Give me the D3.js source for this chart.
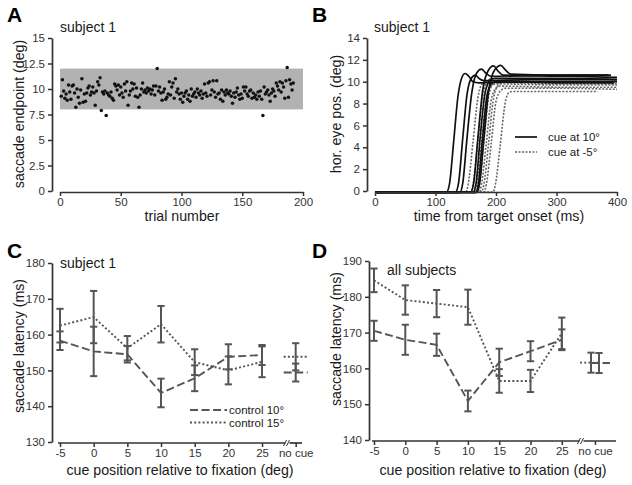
<!DOCTYPE html>
<html><head><meta charset="utf-8">
<script src="https://cdn.jsdelivr.net/npm/d3@7"></script>
<style>
body{margin:0;background:#fff;}
svg{display:block;font-family:"Liberation Sans",Arial,sans-serif;}
</style></head><body>
<svg id="chart" width="632" height="485"></svg>
<script>
// ---------- Panel A data ----------
const endpoints = [
9.3,10.9,9.8,9.1,9.5,8.9,10.4,9.7,9.0,10.3,
10.4,9.6,8.2,10.0,9.2,8.6,9.9,11.0,8.7,9.5,
8.8,9.6,10.1,10.3,9.4,9.7,10.2,9.6,8.4,9.8,
10.7,10.4,11.1,7.9,9.7,9.5,9.8,7.4,9.6,9.4,
9.3,9.7,9.1,8.9,10.5,10.3,9.9,10.4,9.4,10.2,
9.6,9.2,10.5,9.8,10.7,8.4,9.4,9.8,10.6,10.0,
10.5,9.3,10.1,9.2,8.2,9.4,10.0,10.6,9.7,9.9,
9.6,10.1,9.8,10.0,9.5,9.9,10.3,9.4,10.3,12.0,
9.8,10.2,9.6,8.9,9.7,10.0,9.0,9.2,9.5,10.7,
9.4,10.2,10.6,9.1,11.0,9.7,10.0,9.5,9.0,9.6,
8.7,9.3,9.6,9.8,9.0,9.4,8.8,10.0,9.3,9.5,
9.7,9.2,10.0,9.6,9.4,9.8,9.1,9.5,10.5,9.6,
9.3,10.6,10.7,9.4,9.9,10.8,9.7,9.2,10.8,9.5,
9.6,9.0,9.9,8.8,9.7,9.4,9.9,9.6,9.5,9.8,
9.3,8.6,9.6,9.2,9.7,10.1,9.4,9.0,9.5,9.1,
10.2,9.8,10.2,9.5,9.3,9.8,9.9,9.1,9.6,9.2,
9.4,9.0,9.7,9.3,9.8,9.0,7.4,10.2,9.5,9.7,
9.9,9.4,8.8,9.6,10.0,9.8,9.3,10.6,10.3,9.9,
10.7,9.7,10.6,10.2,9.1,10.8,12.1,9.2,10.9,10.5,
9.9,10.6];
const bandLimits = [8, 12];
const aYTicks = [0, 2.5, 5, 7.5, 10, 12.5, 15];
const aXTicks = [0, 50, 100, 150, 200];

// ---------- Panel B data: [time ms, position deg] ----------
const tracesCue10 = [
 [[0,-0.12],[118,-0.12],[123,0.6],[130,4.5],[137,8.6],[143,10.3],[149,10.75],[155,10.5],[162,10.0],[172,9.9],[250,10.0],[400,10.0]],
 [[0,-0.1],[133,-0.1],[138,0.7],[145,4.8],[152,8.8],[159,10.3],[166,10.6],[172,10.3],[180,10.1],[260,10.2],[400,10.2]],
 [[0,-0.15],[140,-0.15],[145,0.7],[152,4.8],[160,9.0],[168,10.8],[176,11.15],[183,10.8],[192,10.5],[300,10.6],[390,10.6]],
 [[0,-0.1],[158,-0.1],[163,0.7],[170,4.8],[178,9.2],[187,11.0],[196,11.45],[203,11.0],[212,10.6],[300,10.5],[400,10.4]],
 [[0,-0.12],[168,-0.12],[173,0.7],[180,4.8],[188,9.2],[198,11.1],[208,11.5],[215,11.1],[224,10.7],[300,10.6],[385,10.6]],
 [[0,-0.1],[162,-0.1],[167,0.7],[174,5.0],[182,9.0],[190,10.1],[198,10.3],[300,10.3],[400,10.2]],
 [[0,-0.15],[166,-0.15],[171,0.7],[178,5.0],[186,9.0],[194,9.9],[202,10.0],[300,9.9],[395,9.9]]
];
const tracesCueM5 = [
 [[0,-0.1],[150,-0.1],[154,0.6],[162,4.5],[170,8.5],[177,9.8],[184,10.0],[300,10.0],[400,10.0]],
 [[0,-0.1],[158,-0.1],[162,0.6],[170,4.6],[178,8.7],[186,10.1],[194,10.3],[300,10.2],[400,10.2]],
 [[0,-0.12],[164,-0.12],[168,0.6],[176,4.4],[184,8.4],[192,9.6],[199,9.8],[300,9.7],[400,9.7]],
 [[0,-0.1],[168,-0.1],[172,0.6],[180,4.6],[188,8.7],[196,9.9],[204,10.1],[300,10.0],[400,10.0]],
 [[0,-0.12],[172,-0.12],[176,0.6],[184,4.4],[192,8.3],[200,9.4],[207,9.6],[300,9.5],[400,9.5]],
 [[0,-0.1],[176,-0.1],[180,0.6],[188,4.5],[196,8.5],[204,9.7],[211,9.9],[300,9.8],[400,9.8]],
 [[0,-0.12],[180,-0.12],[184,0.6],[192,4.3],[200,8.2],[208,9.2],[215,9.4],[300,9.4],[400,9.3]],
 [[0,-0.1],[195,-0.1],[199,0.6],[207,4.2],[215,8.0],[221,9.0],[226,9.1],[300,9.1],[368,9.1]]
];
const bYTicks = [0, 2, 4, 6, 8, 10, 12, 14];
const bXTicks = [0, 100, 200, 300, 400];

// ---------- Panels C & D data ----------
const cuePositions = [-5, 0, 5, 10, 15, 20, 25];
const cueTickLabels = ["-5", "0", "5", "10", "15", "20", "25", "no cue"];
const cMean10 = [158.3, 155.3, 154.5, 143.7, 147.8, 153.8, 154.3];
const cErr10  = [2.6, 6.9, 2.3, 4.0, 3.6, 3.5, 2.8];
const cMean15 = [162.5, 164.9, 156.2, 162.9, 152.3, 150.0, 152.4];
const cErr15  = [4.7, 7.3, 3.4, 5.1, 3.6, 3.9, 4.3];
const cNoCue10 = [149.4, 2.5];
const cNoCue15 = [153.8, 3.8];
const cYTicks = [130, 140, 150, 160, 170, 180];

const dMean10 = [170.5, 168.0, 166.6, 150.9, 161.7, 164.8, 168.0];
const dErr10  = [2.8, 4.2, 3.1, 2.9, 3.8, 2.8, 2.9];
const dMean15 = [184.6, 179.1, 178.1, 177.1, 156.5, 156.5, 169.8];
const dErr15  = [3.3, 4.1, 3.8, 4.9, 3.3, 3.1, 4.4];
const dNoCue10 = [161.5, 2.8];
const dNoCue15 = [161.6, 2.8];
const dYTicks = [140, 150, 160, 170, 180, 190];

// ---------- drawing ----------
const svg = d3.select("#chart");
const FONT = '"Liberation Sans",Arial,sans-serif';
const AX = "#333";
const LN = "#555";

function styleAxis(g){
  g.attr("font-family", FONT).attr("font-size", 11.5);
  g.select(".domain").attr("stroke", AX).attr("stroke-width", 1.7);
  g.selectAll(".tick line").attr("stroke", AX).attr("stroke-width", 1.5);
  g.selectAll(".tick text").attr("fill", "#333");
}
function text(x, y, s, opts = {}){
  const t = svg.append("text").attr("x", x).attr("y", y).text(s)
    .attr("font-family", FONT).attr("font-size", opts.size || 14.2)
    .attr("fill", opts.fill || "#1a1a1a")
    .attr("text-anchor", opts.anchor || "start");
  if (opts.bold) t.attr("font-weight", "bold");
  if (opts.rotate) t.attr("transform", `rotate(-90,${x},${y})`);
  return t;
}

// Panel letters
text(7, 22, "A", {size: 21, bold: true, fill: "#000"});
text(312, 22, "B", {size: 21, bold: true, fill: "#000"});
text(7, 258, "C", {size: 21, bold: true, fill: "#000"});
text(312, 258, "D", {size: 21, bold: true, fill: "#000"});

// ===== Panel A =====
{
  const x = d3.scaleLinear().domain([0, 200]).range([60, 303]);
  const y = d3.scaleLinear().domain([0, 15]).range([191, 38]);
  svg.append("rect").attr("x", x(0)).attr("width", x(200) - x(0))
    .attr("y", y(bandLimits[1])).attr("height", y(bandLimits[0]) - y(bandLimits[1]))
    .attr("fill", "#b2b2b2");
  svg.append("g").selectAll("circle").data(endpoints).join("circle")
    .attr("cx", (d, i) => x(i + 1)).attr("cy", d => y(d)).attr("r", 1.75).attr("fill", "#111");
  svg.append("g").attr("transform", "translate(52,0)")
    .call(d3.axisLeft(y).tickValues(aYTicks).tickFormat(d => String(d)).tickSize(4).tickPadding(3).tickSizeOuter(0))
    .call(styleAxis);
  svg.append("g").attr("transform", "translate(0,192)")
    .call(d3.axisBottom(x).tickValues(aXTicks).tickSize(4).tickPadding(1.5).tickSizeOuter(0))
    .call(styleAxis);
  text(60, 32, "subject 1", {size: 14});
  text(182, 221, "trial number", {anchor: "middle"});
  text(24, 114, "saccade endpoint (deg)", {anchor: "middle", rotate: true});
}

// ===== Panel B =====
{
  const x = d3.scaleLinear().domain([0, 400]).range([375, 617]);
  const y = d3.scaleLinear().domain([0, 14]).range([191, 38]);
  const line = d3.line().x(d => x(d[0])).y(d => y(d[1])).curve(d3.curveMonotoneX);
  svg.append("g").selectAll("path").data(tracesCueM5).join("path")
    .attr("d", line).attr("fill", "none").attr("stroke", "#666")
    .attr("stroke-width", 1.6).attr("stroke-dasharray", "2,1.5");
  svg.append("g").selectAll("path").data(tracesCue10).join("path")
    .attr("d", line).attr("fill", "none").attr("stroke", "#111")
    .attr("stroke-width", 1.7);
  svg.append("g").attr("transform", "translate(367,0)")
    .call(d3.axisLeft(y).tickValues(bYTicks).tickSize(4).tickPadding(3).tickSizeOuter(0))
    .call(styleAxis);
  svg.append("g").attr("transform", "translate(0,192)")
    .call(d3.axisBottom(x).tickValues(bXTicks).tickSize(4).tickPadding(1.5).tickSizeOuter(0))
    .call(styleAxis);
  text(374, 32, "subject 1", {size: 14});
  text(499, 221, "time from target onset (ms)", {anchor: "middle"});
  text(341, 114, "hor. eye pos. (deg)", {anchor: "middle", rotate: true});
  // legend
  svg.append("line").attr("x1", 515).attr("x2", 537).attr("y1", 137).attr("y2", 137)
    .attr("stroke", "#111").attr("stroke-width", 1.7);
  svg.append("line").attr("x1", 515).attr("x2", 537).attr("y1", 152).attr("y2", 152)
    .attr("stroke", "#666").attr("stroke-width", 1.6).attr("stroke-dasharray", "2,1.5");
  text(548, 141, "cue at 10°", {size: 11.5});
  text(548, 156, "cue at -5°", {size: 11.5});
}

// ===== Panels C & D =====
function latencyPanel(cfg){
  const x = d3.scaleLinear().domain([-5, cfg.noCuePos]).range(cfg.xRange);
  const y = d3.scaleLinear().domain(cfg.yDomain).range(cfg.yRange);
  const g = svg.append("g");
  const series = [
    {mean: cfg.m15, err: cfg.e15, nc: cfg.nc15, dash: "2,2.2", ncOff: cfg.ncOff[1], seg: cfg.seg15},
    {mean: cfg.m10, err: cfg.e10, nc: cfg.nc10, dash: "8,3.5", ncOff: cfg.ncOff[0], seg: cfg.seg10}
  ];
  const line = d3.line().x(d => x(d[0])).y(d => y(d[1]));
  series.forEach(s => {
    const pts = cuePositions.map((p, i) => [p, s.mean[i]]);
    g.append("path").attr("d", line(pts)).attr("fill", "none")
      .attr("stroke", LN).attr("stroke-width", 1.9).attr("stroke-dasharray", s.dash);
    const xn = x(cfg.noCuePos);
    g.append("line").attr("x1", xn + s.seg[0]).attr("x2", xn + s.seg[1])
      .attr("y1", y(s.nc[0])).attr("y2", y(s.nc[0]))
      .attr("stroke", LN).attr("stroke-width", 1.9).attr("stroke-dasharray", s.dash);
  });
  const cap = 3.6;
  function bar(xp, m, e){
    g.append("line").attr("x1", xp).attr("x2", xp).attr("y1", y(m - e)).attr("y2", y(m + e))
      .attr("stroke", LN).attr("stroke-width", 2);
    [m - e, m + e].forEach(v => g.append("line").attr("x1", xp - cap).attr("x2", xp + cap)
      .attr("y1", y(v)).attr("y2", y(v)).attr("stroke", LN).attr("stroke-width", 2));
  }
  series.forEach(s => {
    cuePositions.forEach((p, i) => bar(x(p), s.mean[i], s.err[i]));
    bar(x(cfg.noCuePos) + s.ncOff, s.nc[0], s.nc[1]);
  });
  svg.append("g").attr("transform", `translate(${cfg.yAxisX},0)`)
    .call(d3.axisLeft(y).tickValues(cfg.yTicks).tickSize(4).tickPadding(3).tickSizeOuter(0))
    .call(styleAxis);
  const xa = svg.append("g").attr("transform", `translate(0,${cfg.xAxisY})`)
    .call(d3.axisBottom(x).tickValues(cuePositions.concat([cfg.noCuePos]))
      .tickFormat((d, i) => cueTickLabels[i]).tickSize(4).tickPadding(2).tickSizeOuter(0))
    .call(styleAxis);
  xa.select(".domain").remove();
  const x0 = cfg.xRange[0] - 2, xb = cfg.breakX, x1 = cfg.axisEnd;
  [[x0, xb - 1.5], [xb + 2.5, x1]].forEach(s => xa.append("line")
    .attr("x1", s[0]).attr("x2", s[1]).attr("y1", 0).attr("y2", 0)
    .attr("stroke", AX).attr("stroke-width", 1.7));
  [xb - 2, xb + 1].forEach(bx => xa.append("line")
    .attr("x1", bx - 1.5).attr("x2", bx + 1.5).attr("y1", 3).attr("y2", -3)
    .attr("stroke", AX).attr("stroke-width", 1));
}

latencyPanel({
  xRange: [60, 295.7], noCuePos: 30, yDomain: [130, 180], yRange: [442, 263],
  yTicks: cYTicks, m10: cMean10, e10: cErr10, m15: cMean15, e15: cErr15,
  nc10: cNoCue10, nc15: cNoCue15, ncOff: [0, 0], seg10: [-12, 12], seg15: [-12, 12],
  yAxisX: 52, xAxisY: 443, breakX: 287, axisEnd: 302
});
text(60, 268, "subject 1", {size: 14});
text(180, 475, "cue position relative to fixation (deg)", {anchor: "middle"});
text(24, 346, "saccade latency (ms)", {anchor: "middle", rotate: true});
svg.append("line").attr("x1", 190).attr("x2", 227).attr("y1", 410).attr("y2", 410)
  .attr("stroke", LN).attr("stroke-width", 1.9).attr("stroke-dasharray", "8,3.5");
svg.append("line").attr("x1", 190).attr("x2", 227).attr("y1", 422.5).attr("y2", 422.5)
  .attr("stroke", LN).attr("stroke-width", 1.9).attr("stroke-dasharray", "2,2.2");
text(229, 414, "control 10°", {size: 11.5});
text(229, 426.5, "control 15°", {size: 11.5});

latencyPanel({
  xRange: [374, 595], noCuePos: 30.3, yDomain: [140, 190], yRange: [440, 261],
  yTicks: dYTicks, m10: dMean10, e10: dErr10, m15: dMean15, e15: dErr15,
  nc10: dNoCue10, nc15: dNoCue15, ncOff: [4, -4], seg10: [-4, 15], seg15: [-15, 4],
  yAxisX: 369, xAxisY: 441, breakX: 581, axisEnd: 616
});
text(387, 275, "all subjects", {size: 14});
text(493, 475, "cue position relative to fixation (deg)", {anchor: "middle"});
text(341, 339, "saccade latency (ms)", {anchor: "middle", rotate: true});
</script>
</body></html>
